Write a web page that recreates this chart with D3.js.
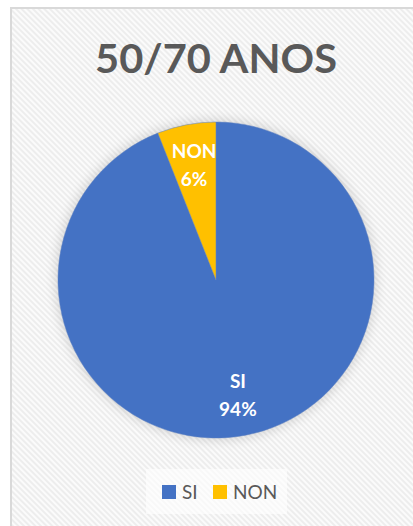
<!DOCTYPE html>
<html>
<head>
    <meta charset="utf-8">
    <title>50/70 ANOS</title>
    <script src="https://cdn.jsdelivr.net/npm/d3@7/dist/d3.min.js"></script>
    <style>
        body { margin: 0; background: #fff; }
        svg { display: block; }
    </style>
</head>
<body>
<script>
    var categories = ["SI", "NON"];
    var values = [94, 6];
    var colors = ["#4472c4", "#ffc000"];
    var title = "50/70 ANOS";

    var width = 413,
        height = 526,
        cx = 216,
        cy = 280,
        radius = 158;

    var svg = d3.select("body").append("svg")
        .attr("width", width)
        .attr("height", height);

    var defs = svg.append("defs");
    var pat = defs.append("pattern")
        .attr("id", "stripes")
        .attr("patternUnits", "userSpaceOnUse")
        .attr("width", 4).attr("height", 4)
        .attr("patternTransform", "rotate(-45)");
    pat.append("rect").attr("width", 4).attr("height", 4).attr("fill", "#fbfbfb");
    pat.append("rect").attr("width", 2).attr("height", 4).attr("fill", "#ededed");

    var shadow = defs.append("filter").attr("id", "glow")
        .attr("x", "-20%").attr("y", "-20%").attr("width", "140%").attr("height", "140%");
    shadow.append("feGaussianBlur").attr("stdDeviation", 6);

    // chart area
    svg.append("rect")
        .attr("x", 11).attr("y", 8)
        .attr("width", width + 10).attr("height", height + 10)
        .attr("fill", "url(#stripes)")
        .attr("stroke", "#d9d9d9")
        .attr("stroke-width", 2);

    svg.append("text")
        .attr("x", cx).attr("y", 73)
        .attr("text-anchor", "middle")
        .attr("font-family", "Lato, 'Open Sans', sans-serif")
        .attr("font-weight", "bold")
        .attr("font-size", 41)
        .attr("textLength", 242)
        .attr("lengthAdjust", "spacingAndGlyphs")
        .attr("fill", "#595959")
        .text(title);

    var pie = d3.pie().sort(null).value(function(d) { return d; });
    var arc = d3.arc().innerRadius(0).outerRadius(radius);
    var arcs = pie(values);

    var g = svg.append("g").attr("transform", "translate(" + cx + "," + cy + ")");

    g.append("circle")
        .attr("r", radius + 2)
        .attr("fill", "#000")
        .attr("opacity", 0.14)
        .attr("filter", "url(#glow)");

    g.selectAll("path")
        .data(arcs)
        .enter()
        .append("path")
        .attr("d", arc)
        .attr("fill", function(d, i) { return colors[i]; })
        .attr("stroke", "#5b7fc0")
        .attr("stroke-width", 0.5);

    var labelR = radius * 0.74;
    var labels = g.selectAll("text.lbl")
        .data(arcs)
        .enter()
        .append("text")
        .attr("class", "lbl")
        .attr("text-anchor", "middle")
        .attr("font-family", "Lato, 'Open Sans', sans-serif")
        .attr("font-weight", "bold")
        .attr("font-size", 19)
        .attr("fill", "#fff")
        .attr("transform", function(d) {
            var a = (d.startAngle + d.endAngle) / 2;
            return "translate(" + (Math.sin(a) * labelR) + "," + (-Math.cos(a) * labelR) + ")";
        });
    labels.append("tspan").attr("x", 0).attr("dy", -7)
        .text(function(d, i) { return categories[i]; });
    labels.append("tspan").attr("x", 0).attr("dy", 28)
        .text(function(d, i) { return Math.round(values[i]) + "%"; });

    // legend
    var lg = svg.append("g").attr("transform", "translate(146,469)");
    lg.append("rect").attr("width", 141).attr("height", 45)
        .attr("fill", "#fff").attr("opacity", 0.6);
    var legendX = [16, 67];
    var items = lg.selectAll("g.item")
        .data(categories)
        .enter()
        .append("g")
        .attr("class", "item")
        .attr("transform", function(d, i) { return "translate(" + legendX[i] + ",16)"; });
    items.append("rect")
        .attr("width", 14).attr("height", 14)
        .attr("fill", function(d, i) { return colors[i]; });
    items.append("text")
        .attr("x", 20).attr("y", 14)
        .attr("font-family", "Lato, 'Open Sans', sans-serif")
        .attr("font-size", 19)
        .attr("fill", "#595959")
        .text(function(d) { return d; });
</script>
</body>
</html>
